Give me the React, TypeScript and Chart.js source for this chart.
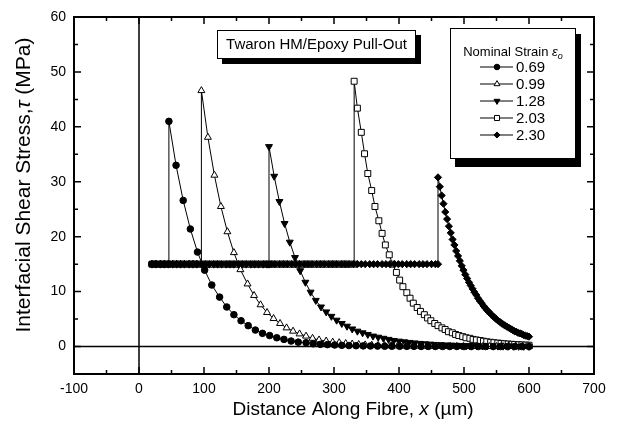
import React, { useEffect, useRef } from 'react';
import { Chart, registerables } from 'chart.js';

Chart.register(...registerables);

// ---------- Axis ticks ----------
const xTickValues = [-100, 0, 100, 200, 300, 400, 500, 600, 700];
const xMinorTicks = [-50, 50, 150, 250, 350, 450, 550, 650];
const yTickValues = [0, 10, 20, 30, 40, 50, 60];
const yMinorTicks = [5, 15, 25, 35, 45, 55];

// ---------- Series ----------
const seriesLabels = ['0.69', '0.99', '1.28', '2.03', '2.30'];
const debondX = [46, 96, 200, 331, 460];
const flatTau = 15;

// positions of the frictional plateau markers (tau = 15 MPa)
const flatX = [20, 26, 33, 39, 45, 52, 58, 64, 70, 77, 83, 89, 96, 102, 108, 115, 121, 127, 134, 140,
  146, 153, 159, 165, 172, 178, 184, 191, 197, 203, 209, 216, 222, 228, 235, 241, 247, 254, 260, 266,
  273, 279, 285, 292, 298, 304, 311, 317, 323, 330, 336, 342, 348, 355, 361, 367, 374, 380, 386, 393,
  399, 405, 412, 418, 424, 431, 437, 443, 450, 456];

const decayX069 = [46, 57, 68, 79, 90, 101, 112, 124, 135, 146, 157, 168, 179, 190, 201, 212, 223, 234, 245, 257,
  268, 279, 290, 301, 312, 323, 334, 345, 356, 367, 378, 389, 401, 412, 423, 434, 445, 456, 467, 478,
  489, 500, 511, 522, 533, 545, 556, 567, 578, 589, 600];
const decayTau069 = [41.0, 33.0, 26.6, 21.4, 17.2, 13.9, 11.2, 9.0, 7.2, 5.8, 4.7, 3.8, 3.0, 2.4, 2.0, 1.6, 1.3, 1.0, 0.8, 0.7,
  0.5, 0.4, 0.35, 0.28, 0.22, 0.18, 0.15, 0.12, 0.1, 0.08, 0.06, 0.05, 0.04, 0.03, 0.03, 0.02, 0.02, 0.01, 0.01, 0.01,
  0.01, 0, 0, 0, 0, 0, 0, 0, 0, 0, 0];

const decayX099 = [96, 106, 116, 126, 136, 146, 156, 167, 177, 187, 197, 207, 217, 227, 237, 247, 257, 267, 277, 288,
  298, 308, 318, 328, 338, 348, 358, 368, 378, 388, 398, 408, 419, 429, 439, 449, 459, 469, 479, 489,
  499, 509, 519, 529, 539, 550, 560, 570, 580, 590, 600];
const decayTau099 = [46.6, 38.1, 31.2, 25.5, 20.9, 17.1, 14.0, 11.4, 9.3, 7.6, 6.2, 5.1, 4.2, 3.4, 2.8, 2.3, 1.9, 1.5, 1.2, 1.0,
  0.8, 0.7, 0.55, 0.45, 0.37, 0.3, 0.25, 0.2, 0.17, 0.14, 0.11, 0.09, 0.07, 0.06, 0.05, 0.04, 0.03, 0.03, 0.02, 0.02,
  0.01, 0.01, 0.01, 0.01, 0, 0, 0, 0, 0, 0, 0];

const decayX128 = [200, 208, 216, 224, 232, 240, 248, 256, 264, 272, 280, 288, 296, 304, 312, 320, 328, 336, 344, 352,
  360, 368, 376, 384, 392, 400, 408, 416, 424, 432, 440, 448, 456, 464, 472, 480, 488, 496, 504, 512,
  520, 528, 536, 544, 552, 560, 568, 576, 584, 592, 600];
const decayTau128 = [36.4, 31.0, 26.4, 22.4, 19.0, 16.2, 13.8, 11.7, 9.9, 8.4, 7.2, 6.3, 5.5, 4.8, 4.2, 3.7, 3.2, 2.8, 2.5, 2.2,
  1.9, 1.7, 1.5, 1.3, 1.1, 0.98, 0.86, 0.75, 0.66, 0.57, 0.5, 0.44, 0.38, 0.34, 0.29, 0.26, 0.22, 0.2, 0.17, 0.15,
  0.13, 0.11, 0.1, 0.09, 0.08, 0.07, 0.06, 0.05, 0.04, 0.04, 0.03];

const decayX203 = [331, 336, 342, 347, 352, 358, 363, 369, 374, 379, 385, 390, 396, 401, 406, 412, 417, 422, 428, 433,
  439, 444, 449, 455, 460, 466, 471, 476, 482, 487, 492, 498, 503, 509, 514, 519, 525, 530, 535, 541,
  546, 552, 557, 562, 568, 573, 578, 584, 589, 595, 600];
const decayTau203 = [48.3, 43.4, 39.0, 35.1, 31.5, 28.4, 25.5, 22.9, 20.6, 18.5, 16.7, 15.0, 13.5, 12.1, 10.9, 9.8, 8.8, 7.9, 7.1, 6.4,
  5.8, 5.2, 4.7, 4.2, 3.8, 3.4, 3.1, 2.7, 2.5, 2.2, 2.0, 1.8, 1.6, 1.5, 1.3, 1.2, 1.1, 0.97, 0.87, 0.78,
  0.7, 0.63, 0.57, 0.51, 0.46, 0.41, 0.37, 0.33, 0.3, 0.27, 0.24];

const decayX230 = [460, 462.8, 465.6, 468.4, 471.2, 474, 476.8, 479.6, 482.4, 485.2, 488, 490.8, 493.6, 496.4, 499.2, 502, 504.8, 507.6, 510.4, 513.2,
  516, 518.8, 521.6, 524.4, 527.2, 530, 532.8, 535.6, 538.4, 541.2, 544, 546.8, 549.6, 552.4, 555.2, 558, 560.8, 563.6, 566.4, 569.2,
  572, 574.8, 577.6, 580.4, 583.2, 586, 588.8, 591.6, 594.4, 597.2, 600];
const decayTau230 = [30.8, 29.1, 27.5, 26.0, 24.5, 23.2, 21.9, 20.7, 19.5, 18.5, 17.4, 16.5, 15.6, 14.7, 13.9, 13.1, 12.4, 11.7, 11.1, 10.5,
  9.9, 9.4, 8.8, 8.3, 7.9, 7.4, 7.0, 6.6, 6.3, 5.9, 5.6, 5.3, 5.0, 4.7, 4.5, 4.2, 4.0, 3.8, 3.6, 3.4,
  3.2, 3.0, 2.8, 2.7, 2.5, 2.4, 2.3, 2.1, 2.0, 1.9, 1.8];

const decayXs = [decayX069, decayX099, decayX128, decayX203, decayX230];
const decayTaus = [decayTau069, decayTau099, decayTau128, decayTau203, decayTau230];

const FONT = "'Liberation Sans', Arial, Helvetica, sans-serif";

type Marker = { style: string; radius: number; fill: string; rotation: number; order: number };
const markers: Marker[] = [
  { style: 'circle', radius: 3.3, fill: '#000', rotation: 0, order: 1 },
  { style: 'triangle', radius: 4, fill: '#fff', rotation: 0, order: 2 },
  { style: 'triangle', radius: 4, fill: '#000', rotation: 180, order: 3 },
  { style: 'rect', radius: 4.2, fill: '#fff', rotation: 0, order: 4 },
  { style: 'rectRot', radius: 3.6, fill: '#000', rotation: 0, order: 0 },
];

function buildSeries(i: number) {
  const x0 = debondX[i];
  const pts: { x: number; y: number }[] = flatX.filter(v => v < x0 - 1).map(v => ({ x: v, y: flatTau }));
  pts.push({ x: x0, y: flatTau });
  decayXs[i].forEach((v, j) => pts.push({ x: v, y: decayTaus[i][j] }));
  return pts;
}

function drawLegendMarker(ctx: CanvasRenderingContext2D, m: Marker, x: number, y: number) {
  const r = m.radius * 0.85;
  ctx.beginPath();
  if (m.style === 'circle') {
    ctx.arc(x, y, r, 0, Math.PI * 2);
  } else if (m.style === 'triangle') {
    const s = m.rotation ? -1 : 1;
    ctx.moveTo(x, y - s * r);
    ctx.lineTo(x + r * 0.866, y + s * r * 0.5);
    ctx.lineTo(x - r * 0.866, y + s * r * 0.5);
    ctx.closePath();
  } else if (m.style === 'rect') {
    const h = r * 0.707;
    ctx.rect(x - h, y - h, 2 * h, 2 * h);
  } else {
    ctx.moveTo(x - r, y);
    ctx.lineTo(x, y - r);
    ctx.lineTo(x + r, y);
    ctx.lineTo(x, y + r);
    ctx.closePath();
  }
  ctx.fillStyle = m.fill;
  ctx.fill();
  ctx.lineWidth = 1;
  ctx.strokeStyle = '#000';
  ctx.stroke();
}

function drawParts(ctx: CanvasRenderingContext2D, parts: { t: string; f: string; dy?: number }[], cx: number, cy: number) {
  let total = 0;
  parts.forEach(p => { ctx.font = p.f; total += ctx.measureText(p.t).width; });
  let xx = cx - total / 2;
  parts.forEach(p => {
    ctx.font = p.f;
    ctx.fillText(p.t, xx, cy + (p.dy || 0));
    xx += ctx.measureText(p.t).width;
  });
}

const decorPlugin = {
  id: 'decor',
  beforeDatasetsDraw(chart: any) {
    const { ctx, chartArea: a, scales } = chart;
    const xs = scales.x, ys = scales.y;
    ctx.save();
    ctx.strokeStyle = '#000';
    ctx.lineWidth = 1.5;
    const y0 = ys.getPixelForValue(0);
    const x0 = xs.getPixelForValue(0);
    ctx.beginPath();
    ctx.moveTo(a.left, y0); ctx.lineTo(a.right, y0);
    ctx.moveTo(x0, a.top); ctx.lineTo(x0, a.bottom);
    ctx.stroke();
    ctx.restore();
  },
  afterDraw(chart: any) {
    const { ctx, chartArea: a, scales } = chart;
    const xs = scales.x, ys = scales.y;
    ctx.save();
    // frame
    ctx.strokeStyle = '#000';
    ctx.lineWidth = 2;
    ctx.strokeRect(a.left, a.top, a.right - a.left, a.bottom - a.top);
    // ticks
    ctx.lineWidth = 1.5;
    ctx.beginPath();
    const tx = (vals: number[], len: number) => vals.forEach(v => {
      const p = xs.getPixelForValue(v);
      ctx.moveTo(p, a.bottom); ctx.lineTo(p, a.bottom - len);
      ctx.moveTo(p, a.top); ctx.lineTo(p, a.top + len);
    });
    const ty = (vals: number[], len: number) => vals.forEach(v => {
      const p = ys.getPixelForValue(v);
      ctx.moveTo(a.left, p); ctx.lineTo(a.left + len, p);
      ctx.moveTo(a.right, p); ctx.lineTo(a.right - len, p);
    });
    tx(xTickValues, 7); tx(xMinorTicks, 4);
    ty(yTickValues, 7); ty(yMinorTicks, 4);
    ctx.stroke();

    // axis titles
    ctx.fillStyle = '#000';
    ctx.textBaseline = 'middle';
    ctx.textAlign = 'left';
    drawParts(ctx, [
      { t: 'Distance Along Fibre, ', f: `19px ${FONT}` },
      { t: 'x', f: `italic 19px ${FONT}` },
      { t: ' (\u00b5m)', f: `19px ${FONT}` },
    ], 353, 410);
    ctx.save();
    ctx.translate(24, 185);
    ctx.rotate(-Math.PI / 2);
    drawParts(ctx, [
      { t: 'Interfacial Shear Stress,', f: `21px ${FONT}` },
      { t: '\u03c4', f: `italic 21px ${FONT}` },
      { t: ' (MPa)', f: `21px ${FONT}` },
    ], 0, 0);
    ctx.restore();

    // title box
    ctx.fillStyle = '#000';
    ctx.fillRect(222, 35, 199, 29);
    ctx.fillStyle = '#fff';
    ctx.fillRect(217, 30, 199, 29);
    ctx.lineWidth = 1;
    ctx.strokeStyle = '#000';
    ctx.strokeRect(217.5, 30.5, 198, 28);
    ctx.fillStyle = '#000';
    ctx.textAlign = 'center';
    ctx.font = `15px ${FONT}`;
    ctx.fillText('Twaron HM/Epoxy Pull-Out', 316.5, 45);

    // legend box
    ctx.fillStyle = '#000';
    ctx.fillRect(455, 34, 126, 133);
    ctx.fillStyle = '#fff';
    ctx.fillRect(450, 28, 126, 131);
    ctx.strokeRect(450.5, 28.5, 125, 130);
    ctx.fillStyle = '#000';
    ctx.textAlign = 'left';
    drawParts(ctx, [
      { t: 'Nominal Strain ', f: `13px ${FONT}` },
      { t: '\u03b5', f: `italic 13px ${FONT}` },
      { t: 'o', f: `italic 9px ${FONT}`, dy: 4 },
    ], 513, 52);
    const rows = [67, 84, 101, 118, 135];
    seriesLabels.forEach((lab, i) => {
      const yy = rows[i];
      ctx.beginPath();
      ctx.lineWidth = 1;
      ctx.strokeStyle = '#000';
      ctx.moveTo(480, yy); ctx.lineTo(513, yy);
      ctx.stroke();
      drawLegendMarker(ctx, markers[i], 497, yy);
      ctx.fillStyle = '#000';
      ctx.font = `15px ${FONT}`;
      ctx.textAlign = 'left';
      ctx.fillText(lab, 516, yy + 1);
    });
    ctx.restore();
  },
};

export default function App() {
  const ref = useRef<HTMLCanvasElement | null>(null);
  useEffect(() => {
    document.body.style.margin = '0';
    const canvas = ref.current;
    if (!canvas) return;
    const datasets = seriesLabels.map((lab, i) => ({
      label: lab,
      data: buildSeries(i),
      order: markers[i].order,
      showLine: true,
      borderColor: '#000',
      borderWidth: 1,
      tension: 0,
      pointStyle: markers[i].style as any,
      pointRadius: markers[i].radius,
      pointRotation: markers[i].rotation,
      pointBackgroundColor: markers[i].fill,
      pointBorderColor: '#000',
      pointBorderWidth: 1,
    }));
    const chart = new Chart(canvas, {
      type: 'scatter',
      data: { datasets },
      options: {
        animation: false,
        responsive: false,
        devicePixelRatio: 1,
        layout: { padding: { top: 17, right: 23, left: 0, bottom: 0 } },
        plugins: { legend: { display: false }, tooltip: { enabled: false } },
        scales: {
          x: {
            type: 'linear',
            min: -100,
            max: 700,
            grid: { display: false, drawTicks: false },
            border: { display: false },
            afterBuildTicks: (s: any) => { s.ticks = xTickValues.map(v => ({ value: v })); },
            afterFit: (s: any) => { s.height = 62; },
            ticks: { color: '#000', font: { family: FONT, size: 14 }, padding: 7, autoSkip: false, maxRotation: 0 },
          },
          y: {
            type: 'linear',
            min: -5,
            max: 60,
            grid: { display: false, drawTicks: false },
            border: { display: false },
            afterBuildTicks: (s: any) => { s.ticks = yTickValues.map(v => ({ value: v })); },
            afterFit: (s: any) => { s.width = 74; },
            ticks: { color: '#000', font: { family: FONT, size: 14 }, padding: 8, autoSkip: false },
          },
        },
      },
      plugins: [decorPlugin],
    });
    return () => chart.destroy();
  }, []);
  return <canvas ref={ref} width={617} height={436} style={{ display: 'block' }} />;
}
